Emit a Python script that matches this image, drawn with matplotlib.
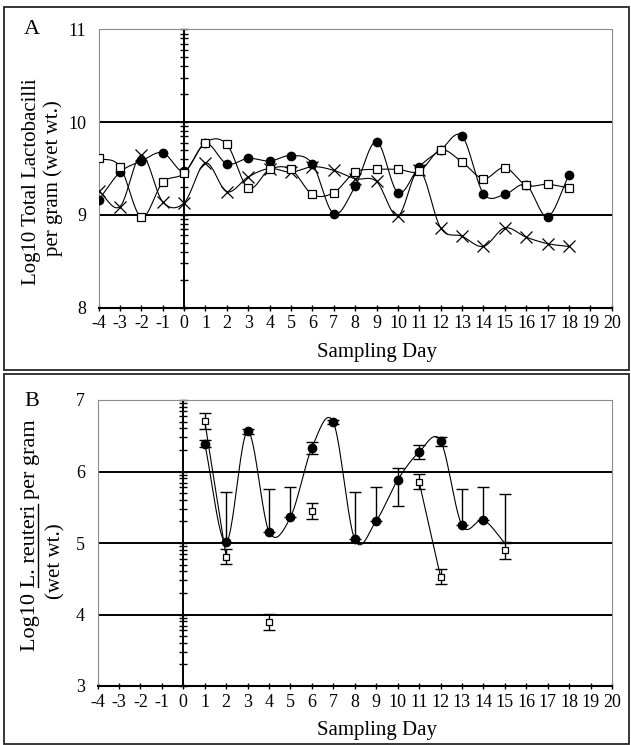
import matplotlib
matplotlib.use("Agg")
import matplotlib.pyplot as plt
import numpy as np
from matplotlib.patches import Rectangle
from matplotlib.lines import Line2D

plt.rcParams['font.family'] = ['Liberation Serif', 'DejaVu Serif']

# ---- Panel A: total lactobacilli (days -4..18)
days_a = np.arange(-4, 19)
squares_a = [9.61, 9.52, 8.975, 9.35, 9.45, 9.78, 9.76, 9.29, 9.49, 9.49, 9.22, 9.24,
             9.46, 9.49, 9.49, 9.47, 9.70, 9.57, 9.39, 9.51, 9.32, 9.33, 9.29]
circles_a = [9.16, 9.46, 9.58, 9.67, 9.47, 9.77, 9.55, 9.61, 9.58, 9.64, 9.55, 9.01,
             9.31, 9.79, 9.24, 9.52, 9.70, 9.85, 9.23, 9.22, 9.32, 8.98, 9.43]
crosses_a = [9.26, 9.09, 9.645, 9.14, 9.13, 9.56, 9.25, 9.41, 9.50, 9.46, 9.52, 9.48,
             9.39, 9.36, 8.99, 9.48, 8.86, 8.77, 8.66, 8.86, 8.76, 8.69, 8.66]

# ---- Panel B: L. reuteri
days_b_circ = np.arange(1, 16)
circles_b = [6.39, 5.01, 6.56, 5.16, 5.36, 6.33, 6.69, 5.05, 5.31, 5.88, 6.27, 6.43, 5.25, 5.32, 5.00]
circ_err_up = [0.05, 0.71, 0.04, 0.59, 0.43, 0.08, 0.03, 0.66, 0.48, 0.17, 0.10, 0.05, 0.50, 0.46, 0.68]
circ_err_lo = [0.05, 0.0, 0.04, 0.0, 0.0, 0.09, 0.03, 0.0, 0.0, 0.36, 0.10, 0.08, 0.0, 0.0, 0.0]

days_b_sq = [1, 2, 4, 6, 11, 12, 15]
squares_b = [6.71, 4.81, 3.90, 5.45, 5.86, 4.53, 4.90]
sq_err = [0.11, 0.10, 0.11, 0.11, 0.10, 0.10, 0.12]

xticks = np.arange(-4, 21)


def smooth(x, y, n=24):
    # Catmull-Rom curve through the points (line drawing only)
    pts = np.column_stack([x, y]).astype(float)
    if len(pts) < 3:
        return pts[:, 0], pts[:, 1]
    p = np.vstack([2 * pts[0] - pts[1], pts, 2 * pts[-1] - pts[-2]])
    t = np.linspace(0, 1, n, endpoint=False)[:, None]
    out = []
    for i in range(1, len(p) - 2):
        p0, p1, p2, p3 = p[i - 1], p[i], p[i + 1], p[i + 2]
        seg = 0.5 * (2 * p1 + (-p0 + p2) * t + (2 * p0 - 5 * p1 + 4 * p2 - p3) * t ** 2
                     + (-p0 + 3 * p1 - 3 * p2 + p3) * t ** 3)
        out.append(seg)
    out.append(pts[-1][None])
    out = np.vstack(out)
    return out[:, 0], out[:, 1]


W, H = 631, 745
fig = plt.figure(figsize=(W / 100, H / 100), dpi=100)


def px_axes(left, right, top, bottom):
    return fig.add_axes([left / W, 1 - bottom / H, (right - left) / W, (bottom - top) / H])


def style_axes(ax, ymin, ymax, grid):
    ax.set_xlim(-4, 20)
    ax.set_ylim(ymin, ymax)
    ax.set_xticks(xticks)
    ax.set_xticklabels([str(v) for v in xticks])
    ax.set_yticks(np.arange(ymin, ymax + 1))
    ax.tick_params(axis='x', direction='inout', length=5, width=1, labelsize=13, pad=3)
    ax.tick_params(axis='y', length=0, labelsize=13, pad=9)
    for s in ['left', 'top', 'right']:
        ax.spines[s].set_color('0.55')
        ax.spines[s].set_linewidth(0.8)
        ax.spines[s].set_linestyle((0, (1, 1)))
    ax.spines['bottom'].set_linewidth(1.5)
    for g in grid:
        ax.axhline(g, color='k', lw=1.4, zorder=1)
    # day 0 axis with log style ticks
    ax.axvline(0, color='k', lw=1.4, zorder=1)
    tk = []
    for base in range(ymin, ymax):
        tk += [base + np.log10(k) for k in range(1, 10)]
    tk.append(ymax)
    ax.plot(np.zeros(len(tk)), tk, ls='none', marker='_', ms=6, mew=1.0, color='k',
            clip_on=False, zorder=2)


# ---------- Panel A
axA = px_axes(98.6, 611.7, 29.3, 307.7)
style_axes(axA, 8, 11, [9, 10])

sx, sy = smooth(days_a, squares_a)
axA.plot(sx, sy, color='k', lw=0.8, zorder=3)
sx, sy = smooth(days_a, circles_a)
axA.plot(sx, sy, color='k', lw=0.8, zorder=3)
sx, sy = smooth(days_a, crosses_a)
axA.plot(sx, sy, color='k', lw=0.8, zorder=3)
axA.plot(days_a, crosses_a, ls='none', marker='x', ms=8, mew=0.9, color='k', zorder=4)
axA.plot(days_a, circles_a, ls='none', marker='o', ms=6, color='k', zorder=5)
axA.plot(days_a, squares_a, ls='none', marker='s', ms=6, mfc='white', mec='k', mew=0.9, zorder=6)

# ---------- Panel B
axB = px_axes(97.5, 612.0, 400.0, 686.0)
style_axes(axB, 3, 7, [4, 5, 6])

sx, sy = smooth(days_b_circ, circles_b)
axB.plot(sx, sy, color='k', lw=0.8, zorder=3)
# square segments joined only on consecutive days
d = np.array(days_b_sq)
v = np.array(squares_b)
breaks = np.where(np.diff(d) > 1)[0] + 1
for seg_d, seg_v in zip(np.split(d, breaks), np.split(v, breaks)):
    if len(seg_d) > 1:
        axB.plot(seg_d, seg_v, color='k', lw=0.8, zorder=3)

axB.errorbar(days_b_circ, circles_b, yerr=[circ_err_lo, circ_err_up], fmt='none',
             ecolor='k', elinewidth=1.0, capsize=4, capthick=1.0, zorder=4)
axB.plot(days_b_circ[:-1], circles_b[:-1], ls='none', marker='o', ms=6, color='k', zorder=5)
axB.errorbar(days_b_sq, squares_b, yerr=sq_err, fmt='none', ecolor='k', elinewidth=1.0,
             capsize=4, capthick=1.0, zorder=4)
axB.plot(days_b_sq, squares_b, ls='none', marker='s', ms=5, mfc='white', mec='k', mew=0.9, zorder=6)

# ---------- texts
fs_lab = 15
fig.text(32 / W, 1 - 30 / H, 'A', fontsize=16, ha='center', va='center')
fig.text(32 / W, 1 - 402 / H, 'B', fontsize=16, ha='center', va='center')
fig.text(377 / W, 1 - 353 / H, 'Sampling Day', fontsize=fs_lab, ha='center', va='center')
fig.text(377 / W, 1 - 730 / H, 'Sampling Day', fontsize=fs_lab, ha='center', va='center')

fig.text(32 / W, 1 - 182 / H, 'Log10 Total Lactobacilli', fontsize=fs_lab, rotation=90,
         ha='center', va='center')
fig.text(53 / W, 1 - 178 / H, 'per gram (wet wt.)', fontsize=fs_lab, rotation=90,
         ha='center', va='center')

# B label: first line with "L. reuteri" underlined
fs_b = 16
line1 = 'Log10 L. reuteri per gram'
renderer = fig.canvas.get_renderer()


def text_w(s):
    t = fig.text(0, 0, s, fontsize=fs_b)
    w = t.get_window_extent(renderer).width
    t.remove()
    return w


pre_w = text_w('Log10 L') - text_w('L')
end_w = text_w('Log10 L. reuteri')
yc = H - 535
lab = fig.text(31 / W, yc / H, line1, fontsize=fs_b, rotation=90, ha='center', va='center')
ext = lab.get_window_extent(renderer)
ybot = ext.y0
ux = ext.x1 - 3
fig.add_artist(Line2D([ux / W, ux / W], [(ybot + pre_w) / H, (ybot + end_w) / H],
                      color='k', lw=1.0))
fig.text(56 / W, 1 - 561 / H, '(wet wt.)', fontsize=fs_lab, rotation=90, ha='center', va='center')

# panel frames
fig.add_artist(Rectangle((4 / W, 1 - 370 / H), 625 / W, 363 / H, fill=False, lw=1.3,
                         edgecolor='0.15'))
fig.add_artist(Rectangle((4 / W, 1 - 744 / H), 625 / W, 370 / H, fill=False, lw=1.3,
                         edgecolor='0.15'))

fig.savefig('out.png', dpi=100)
